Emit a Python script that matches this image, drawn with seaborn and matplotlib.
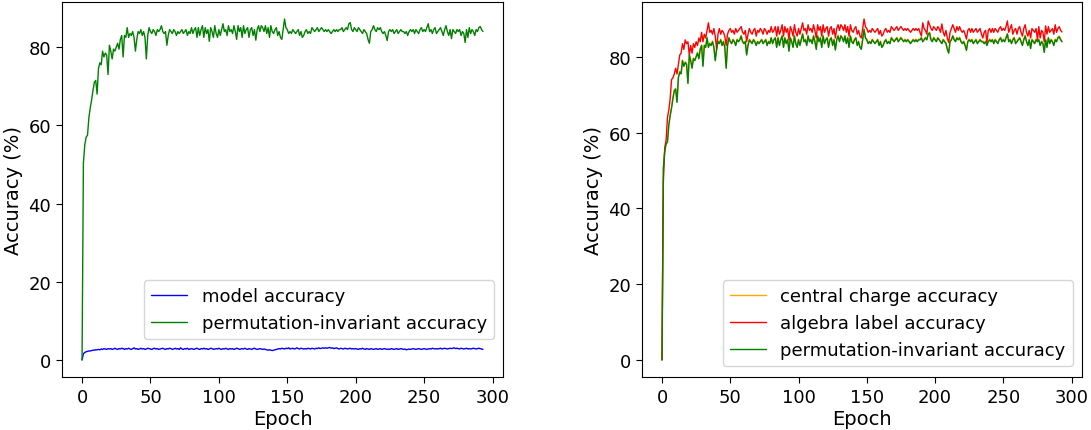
import numpy as np
import matplotlib
matplotlib.use("Agg")
import matplotlib.pyplot as plt
import seaborn as sns

# ---------------- data ----------------
perm_invariant = [
    0.0, 50.5, 55.0, 57.0, 57.5, 62.0, 64.5, 66.5, 69.0, 71.0,
    71.5, 68.0, 74.5, 76.0, 75.5, 79.0, 77.5, 78.5, 78.0, 73.0,
    80.5, 79.0, 77.0, 79.5, 79.0, 80.0, 81.0, 79.5, 82.0, 83.0,
    77.5, 83.0, 82.5, 85.0, 82.5, 83.5, 83.0, 84.0, 82.5, 79.0,
    82.0, 84.0, 83.5, 84.5, 83.0, 84.0, 82.5, 77.0, 83.0, 85.0,
    84.0, 83.5, 84.5, 84.0, 83.0, 84.5, 84.0, 84.5, 85.5, 84.0,
    83.5, 84.0, 80.5, 83.0, 84.5, 84.0, 83.5, 84.5, 84.0, 83.0,
    84.0, 83.5, 84.0, 84.5, 83.5, 84.0, 84.5, 83.0, 84.0, 83.5,
    85.0, 83.5, 84.5, 85.0, 82.5, 85.0, 83.0, 84.5, 85.5, 82.5,
    85.0, 83.5, 84.5, 81.5, 85.0, 84.0, 82.5, 85.5, 83.5, 82.5,
    84.5, 83.0, 84.5, 86.0, 84.0, 84.5, 83.0, 85.5, 84.0, 84.5,
    83.5, 85.5, 84.0, 82.0, 85.5, 84.0, 85.0, 82.5, 85.5, 83.5,
    84.5, 85.0, 82.5, 84.5, 85.0, 83.0, 84.5, 81.8, 84.5, 85.5,
    84.0, 85.5, 85.0, 84.0, 85.5, 83.5, 85.0, 82.5, 85.5, 84.0,
    83.5, 84.5, 85.0, 83.0, 84.0, 82.5, 82.0, 84.5, 87.2, 85.0,
    84.5, 83.5, 84.0, 83.5, 84.5, 84.0, 83.5, 84.0, 84.5, 83.0,
    84.0, 82.5, 83.0, 84.0, 84.5, 83.5, 84.0, 83.5, 85.0, 84.5,
    84.0, 84.5, 85.0, 84.0, 84.5, 85.0, 84.5, 84.0, 84.5, 84.0,
    84.5, 84.0, 83.5, 84.0, 84.5, 84.0, 84.5, 84.0, 84.5, 84.5,
    85.0, 84.0, 84.5, 85.0, 84.5, 86.0, 86.3, 84.5, 84.0, 85.0,
    84.5, 84.0, 85.0, 84.5, 84.0, 83.5, 84.5, 84.0, 83.5, 82.0,
    81.0, 84.0, 84.5, 85.5, 84.5, 84.0, 85.0, 84.5, 85.0, 84.0,
    83.5, 84.0, 83.0, 81.7, 84.0, 84.5, 84.0, 84.5, 83.5, 84.0,
    84.5, 83.5, 84.0, 84.5, 84.0, 84.0, 83.5, 84.0, 83.0, 84.0,
    84.5, 84.0, 84.5, 83.5, 84.5, 84.0, 83.5, 84.5, 85.0, 84.0,
    84.5, 84.0, 85.0, 86.0, 84.0, 84.5, 83.5, 84.5, 85.0, 83.5,
    84.0, 84.5, 85.0, 84.0, 83.0, 84.5, 85.5, 84.0, 83.0, 84.5,
    82.2, 84.5, 84.0, 83.5, 84.5, 84.0, 84.5, 83.0, 84.0, 83.5,
    81.2, 84.5, 82.5, 85.0, 83.5, 84.5, 84.0, 83.0, 84.5, 84.0,
    85.0, 85.3, 84.5, 84.0,
]

central_charge = [
    0.0, 50.8, 55.3, 57.2, 57.8, 62.3, 64.7, 66.8, 69.2, 71.3,
    71.7, 68.3, 74.7, 76.2, 75.8, 79.2, 77.8, 78.7, 78.3, 73.3,
    80.7, 79.2, 77.3, 79.7, 79.2, 80.2, 81.2, 79.7, 82.2, 83.2,
    77.8, 83.2, 82.7, 85.2, 82.7, 83.7, 83.2, 84.2, 82.7, 79.3,
    82.2, 84.2, 83.7, 84.7, 83.2, 84.2, 82.7, 77.3, 83.2, 85.2,
    84.2, 83.7, 84.7, 84.2, 83.2, 84.7, 84.2, 84.7, 85.7, 84.2,
    83.7, 84.2, 80.8, 83.2, 84.7, 84.2, 83.7, 84.7, 84.2, 83.2,
    84.2, 83.7, 84.2, 84.7, 83.7, 84.2, 84.7, 83.2, 84.2, 83.7,
    85.2, 83.7, 84.7, 85.2, 82.7, 85.2, 83.2, 84.7, 85.7, 82.7,
    85.2, 83.7, 84.7, 81.7, 85.2, 84.2, 82.7, 85.7, 83.7, 82.7,
    84.7, 83.2, 84.7, 86.2, 84.2, 84.7, 83.2, 85.7, 84.2, 84.7,
    83.7, 85.7, 84.2, 82.2, 85.7, 84.2, 85.2, 82.7, 85.7, 83.7,
    84.7, 85.2, 82.7, 84.7, 85.2, 83.2, 84.7, 82.0, 84.7, 85.7,
    84.2, 85.7, 85.2, 84.2, 85.7, 83.7, 85.2, 82.7, 85.7, 84.2,
    83.7, 84.7, 85.2, 83.2, 84.2, 82.7, 82.2, 84.7, 87.4, 85.2,
    84.7, 83.7, 84.2, 83.7, 84.7, 84.2, 83.7, 84.2, 84.7, 83.2,
    84.2, 82.7, 83.2, 84.2, 84.7, 83.7, 84.2, 83.7, 85.2, 84.7,
    84.2, 84.7, 85.2, 84.2, 84.7, 85.2, 84.7, 84.2, 84.7, 84.2,
    84.7, 84.2, 83.7, 84.2, 84.7, 84.2, 84.7, 84.2, 84.7, 84.7,
    85.2, 84.2, 84.7, 85.2, 84.7, 86.2, 86.5, 84.7, 84.2, 85.2,
    84.7, 84.2, 85.2, 84.7, 84.2, 83.7, 84.7, 84.2, 83.7, 82.2,
    81.2, 84.2, 84.7, 85.7, 84.7, 84.2, 85.2, 84.7, 85.2, 84.2,
    83.7, 84.2, 83.2, 81.9, 84.2, 84.7, 84.2, 84.7, 83.7, 84.2,
    84.7, 83.7, 84.2, 84.7, 84.2, 84.2, 83.7, 84.2, 83.2, 84.2,
    84.7, 84.2, 84.7, 83.7, 84.7, 84.2, 83.7, 84.7, 85.2, 84.2,
    84.7, 84.2, 85.2, 86.2, 84.2, 84.7, 83.7, 84.7, 85.2, 83.7,
    84.2, 84.7, 85.2, 84.2, 83.2, 84.7, 85.7, 84.2, 83.2, 84.7,
    82.4, 84.7, 84.2, 83.7, 84.7, 84.2, 84.7, 83.2, 84.2, 83.7,
    81.4, 84.7, 82.7, 85.2, 83.7, 84.7, 84.2, 83.2, 84.7, 84.2,
    85.2, 85.5, 84.7, 84.2,
]

algebra_label = [
    0.0, 47.0, 56.0, 58.0, 64.0, 66.0, 69.0, 74.0, 74.5, 75.5,
    77.0, 75.5, 78.0, 80.5, 81.0, 83.5, 82.0, 84.5, 83.5, 84.0,
    80.5, 83.0, 81.0, 83.5, 82.5, 84.0, 83.0, 85.0, 84.0, 86.5,
    84.0, 86.0, 85.0, 87.0, 89.0, 86.5, 87.0, 86.0, 87.5, 85.5,
    82.0, 86.0, 87.5, 86.0, 87.0, 86.5, 85.5, 83.0, 86.0, 87.0,
    87.5, 86.5, 87.0, 86.0, 87.5, 86.5, 87.0, 87.5, 88.0, 86.5,
    86.0, 87.0, 84.0, 86.0, 87.5, 86.5, 86.0, 87.0, 87.5, 85.5,
    87.0, 86.5, 87.5, 87.0, 86.0, 87.5, 87.0, 86.0, 87.0, 86.5,
    88.0, 86.5, 87.0, 88.0, 85.5, 88.0, 86.0, 87.0, 88.5, 85.5,
    88.0, 86.5, 87.5, 84.5, 88.0, 87.0, 85.5, 88.5, 86.5, 85.5,
    87.5, 86.0, 87.5, 89.0, 87.0, 87.5, 86.0, 88.5, 87.0, 87.5,
    86.5, 88.5, 87.0, 85.0, 88.5, 87.0, 88.0, 85.5, 88.5, 86.5,
    87.5, 88.0, 85.5, 87.5, 88.0, 86.0, 87.5, 85.0, 87.5, 88.5,
    87.0, 88.5, 88.0, 87.0, 88.5, 86.5, 88.0, 85.5, 88.5, 87.0,
    86.5, 87.5, 88.0, 86.0, 87.0, 85.5, 85.0, 87.5, 90.0, 88.0,
    87.5, 86.5, 87.0, 86.5, 87.5, 87.0, 86.5, 87.0, 87.5, 86.0,
    87.0, 85.5, 86.0, 87.0, 87.5, 86.5, 87.0, 86.5, 88.0, 87.5,
    87.0, 87.5, 88.0, 87.0, 87.5, 88.0, 87.5, 87.0, 87.5, 87.0,
    87.5, 87.0, 86.5, 87.0, 87.5, 87.0, 87.5, 87.0, 87.5, 86.5,
    85.5, 89.0, 87.5, 87.0, 86.0, 89.5, 88.5, 87.5, 87.0, 88.0,
    87.5, 87.0, 88.0, 87.5, 86.5, 88.7, 86.5, 85.5, 87.0, 85.0,
    83.8, 86.5, 87.5, 88.5, 87.5, 86.5, 88.0, 87.0, 88.0, 87.0,
    86.5, 87.0, 86.0, 84.7, 87.0, 87.5, 86.5, 87.5, 86.5, 87.0,
    87.5, 86.5, 87.0, 87.5, 86.0, 85.0, 86.5, 87.0, 83.8, 87.0,
    87.5, 86.5, 87.5, 86.5, 87.5, 87.0, 86.5, 87.5, 88.0, 87.0,
    87.5, 87.0, 88.0, 89.5, 86.5, 87.5, 88.5, 86.0, 87.0, 87.5,
    86.0, 87.5, 88.0, 86.5, 85.5, 87.5, 88.5, 86.5, 85.5, 87.0,
    85.0, 87.5, 87.0, 86.5, 87.5, 84.5, 88.0, 85.0, 87.0, 86.5,
    84.0, 88.2, 86.0, 88.0, 86.5, 87.0, 87.5, 86.0, 88.5, 86.5,
    87.5, 88.0, 87.0, 86.6,
]

model_accuracy = [
    0.0, 1.6, 1.9, 2.1, 2.2, 2.3, 2.3, 2.4, 2.5, 2.5,
    2.6, 2.6, 2.7, 2.6, 2.8, 2.7, 2.9, 2.8, 2.7, 2.9,
    2.8, 2.9, 2.7, 2.8, 3.0, 2.8, 2.7, 2.9, 2.8, 3.0,
    2.9, 2.7, 2.9, 2.8, 3.0, 2.8, 2.7, 2.9, 3.1, 2.8,
    2.9, 2.7, 2.8, 3.0, 2.8, 2.9, 2.7, 2.8, 3.0, 2.9,
    2.8, 2.7, 2.9, 3.0, 2.8, 2.9, 2.7, 2.8, 2.9, 3.0,
    2.8, 2.7, 2.9, 2.8, 3.0, 2.9, 2.7, 2.8, 3.0, 2.8,
    2.9, 2.7, 3.1, 2.8, 2.7, 2.9, 2.8, 3.0, 2.7, 2.8,
    2.9, 2.8, 2.7, 2.9, 3.0, 2.8, 2.7, 2.9, 2.8, 3.0,
    2.8, 2.9, 2.7, 2.8, 3.0, 2.9, 2.7, 2.8, 2.9, 2.8,
    3.0, 2.8, 2.7, 2.9, 2.8, 3.0, 2.8, 2.7, 2.9, 2.8,
    2.9, 2.7, 2.8, 3.0, 2.9, 2.7, 2.8, 2.9, 2.8, 3.0,
    2.8, 2.7, 2.9, 2.8, 2.7, 2.9, 3.0, 2.8, 2.7, 2.8,
    2.9, 2.8, 2.7, 2.8, 2.7, 2.6, 2.5, 2.6, 2.5, 2.4,
    2.5, 2.6, 2.7, 2.8, 2.9, 2.8, 3.0, 2.9, 2.8, 3.0,
    2.9, 3.1, 2.8, 2.9, 3.0, 2.8, 2.9, 3.1, 2.9, 2.8,
    3.0, 2.9, 2.8, 2.9, 2.8, 3.0, 2.9, 2.8, 3.0, 2.9,
    2.8, 3.0, 2.9, 3.1, 2.9, 3.0, 3.1, 3.0, 3.1, 3.0,
    3.1, 3.2, 3.0, 3.1, 2.9, 3.0, 3.1, 2.9, 2.8, 3.0,
    2.9, 2.8, 3.0, 2.9, 2.8, 2.9, 3.0, 2.8, 2.9, 2.8,
    2.9, 2.8, 2.7, 2.9, 2.8, 3.0, 2.8, 2.7, 2.9, 2.8,
    2.7, 2.9, 2.8, 2.7, 2.8, 2.9, 2.7, 2.8, 2.9, 2.7,
    2.8, 2.9, 2.8, 2.7, 2.8, 2.7, 2.9, 2.8, 2.7, 2.8,
    2.9, 2.7, 2.8, 2.9, 2.8, 2.7, 2.8, 2.6, 2.7, 2.8,
    2.7, 2.8, 2.9, 2.8, 2.7, 2.8, 2.9, 2.8, 2.7, 2.8,
    2.9, 2.8, 2.7, 2.8, 2.9, 2.8, 3.0, 2.9, 2.8, 2.9,
    2.8, 2.9, 3.0, 2.8, 2.9, 3.0, 2.9, 2.8, 2.9, 3.0,
    2.9, 3.0, 3.1, 2.9, 3.0, 2.9, 2.8, 3.0, 2.9, 2.8,
    2.9, 3.0, 2.8, 2.9, 2.8, 2.9, 3.0, 2.9, 2.8, 2.9,
    3.0, 2.9, 2.8, 2.7,
]

epochs = list(range(len(perm_invariant)))

xticks = [0, 50, 100, 150, 200, 250, 300]
yticks = [0, 20, 40, 60, 80]

# ---------------- figure ----------------
sns.set_theme(style="ticks", rc={
    "text.color": "black",
    "axes.labelcolor": "black",
    "xtick.color": "black",
    "ytick.color": "black",
    "axes.edgecolor": "black",
})
plt.rcParams["font.family"] = ["DejaVu Sans"]

fig = plt.figure(figsize=(10.91, 4.31), dpi=100)
ax1 = fig.add_axes([62 / 1091, 53 / 431, 441 / 1091, 375 / 431])
ax2 = fig.add_axes([642 / 1091, 53 / 431, 440 / 1091, 375 / 431])

lw = 1.0
sns.lineplot(x=epochs, y=model_accuracy, ax=ax1, color="blue", linewidth=lw,
             label="model accuracy")
sns.lineplot(x=epochs, y=perm_invariant, ax=ax1, color="green", linewidth=lw,
             label="permutation-invariant accuracy")

sns.lineplot(x=epochs, y=central_charge, ax=ax2, color="orange", linewidth=lw,
             label="central charge accuracy")
sns.lineplot(x=epochs, y=algebra_label, ax=ax2, color="red", linewidth=lw,
             label="algebra label accuracy")
sns.lineplot(x=epochs, y=perm_invariant, ax=ax2, color="green", linewidth=lw,
             label="permutation-invariant accuracy")

for ax in (ax1, ax2):
    ax.set_xticks(xticks)
    ax.set_yticks(yticks)
    ax.tick_params(labelsize=13, direction="out", length=4.5, width=0.8,
                   color="black", labelcolor="black")
    ax.set_xlabel("Epoch", fontsize=14, labelpad=2, color="black")
    ax.set_ylabel("Accuracy (%)", fontsize=14, color="black")
    for s in ax.spines.values():
        s.set_visible(True)
        s.set_color("black")
        s.set_linewidth(0.8)
    leg = ax.legend(loc="upper right", bbox_to_anchor=(1.0, 0.283), fontsize=13,
                    frameon=True, framealpha=0.8, edgecolor="#cccccc", fancybox=True)
    for t in leg.get_texts():
        t.set_color("black")

fig.savefig("out.png", dpi=100)
